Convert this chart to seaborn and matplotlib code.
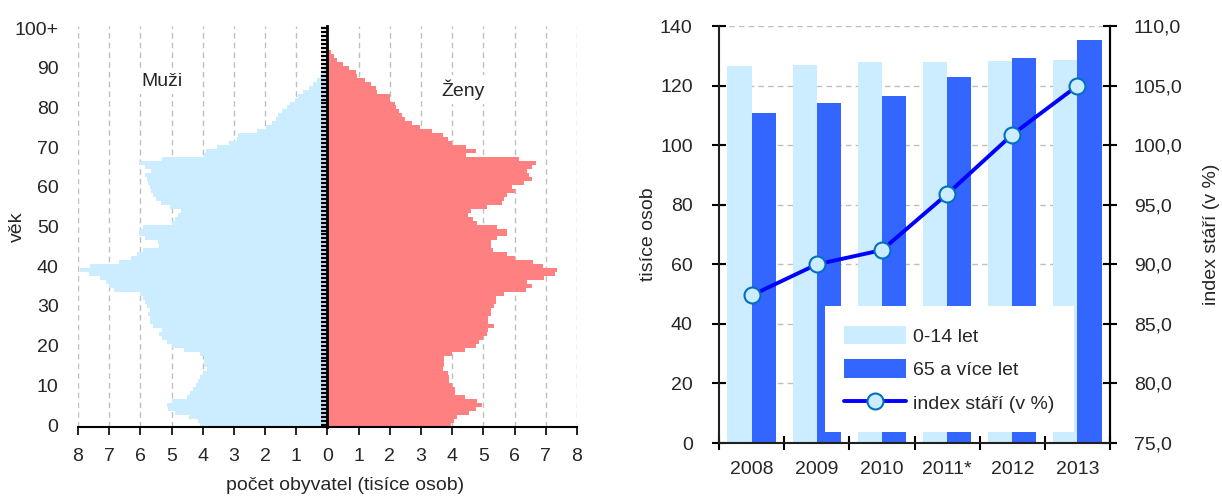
import numpy as np
import pandas as pd
import matplotlib
matplotlib.use("Agg")
import matplotlib.pyplot as plt
from matplotlib.patches import Patch
import seaborn as sns

# population pyramid (thousands), age 0 .. 100+
ages = np.arange(101)
men = [4.1, 4.15, 4.45, 4.9, 5.1, 5.15, 5.0, 4.5, 4.4, 4.3,
       4.2, 4.15, 4.1, 4.0, 3.85, 3.95, 3.95, 3.95, 4.1, 4.6,
       5.0, 5.15, 5.3, 5.4, 5.3, 5.6, 5.7, 5.7, 5.75, 5.7,
       5.8, 5.85, 5.9, 6.0, 6.85, 7.0, 7.1, 7.3, 7.65, 7.95,
       7.6, 6.7, 6.3, 6.1, 5.9, 5.4, 5.45, 5.85, 6.05, 6.05,
       5.9, 5.0, 4.9, 4.8, 4.7, 5.05, 5.35, 5.5, 5.6, 5.65,
       5.7, 5.75, 5.8, 5.85, 5.65, 5.85, 6.05, 5.3, 3.95, 3.9,
       3.55, 3.17, 2.9, 2.88, 2.27, 1.98, 1.77, 1.65, 1.6, 1.45,
       1.29, 1.2, 1.05, 0.95, 0.78, 0.6, 0.45, 0.35, 0.25, 0.15,
       0.1, 0.07, 0.05, 0.04, 0.03, 0.02, 0.01, 0.01, 0.01, 0.01,
       0.01]
women = [3.95, 4.05, 4.15, 4.55, 4.75, 4.95, 4.8, 4.4, 4.1, 4.1,
         4.0, 3.9, 3.9, 3.85, 3.7, 3.75, 3.75, 3.75, 4.0, 4.4,
         4.75, 4.85, 5.0, 5.1, 5.15, 5.35, 5.15, 5.15, 5.25, 5.25,
         5.35, 5.4, 5.4, 5.65, 6.35, 6.55, 6.4, 6.95, 7.3, 7.35,
         6.9, 6.6, 6.0, 5.75, 5.3, 5.25, 5.25, 5.45, 5.75, 5.75,
         5.45, 4.8, 4.65, 4.5, 4.6, 5.1, 5.6, 5.65, 5.75, 6.0,
         5.9, 6.3, 6.55, 6.45, 6.4, 6.55, 6.7, 6.15, 4.45, 4.75,
         4.45, 4.0, 3.85, 3.7, 3.35, 2.95, 2.7, 2.5, 2.4, 2.3,
         2.2, 2.15, 2.0, 2.0, 1.6, 1.55, 1.4, 1.2, 0.95, 0.9,
         0.7, 0.5, 0.32, 0.2, 0.1, 0.06, 0.04, 0.03, 0.02, 0.01,
         0.02]
age_ticks = list(range(0, 101, 10))
age_labels = [str(a) for a in age_ticks[:-1]] + ["100+"]

# age structure 2008-2013
years = ["2008", "2009", "2010", "2011*", "2012", "2013"]
kids = [126.7, 126.8, 127.9, 128.0, 128.2, 128.8]
seniors = [110.7, 114.1, 116.6, 122.8, 129.4, 135.3]
aging_index = [87.4, 90.0, 91.2, 95.9, 100.9, 105.0]

light = "#CCECFF"
pink = "#FF8080"
dark = "#3366FF"
grid_kw = dict(color="#BFBFBF", linestyle=(0, (4, 3)), linewidth=1)
fs = 14

sns.set_theme(style="white")
plt.rcParams["font.family"] = ["Liberation Sans", "DejaVu Sans"]
plt.rcParams["font.size"] = fs

fig = plt.figure(figsize=(12.22, 4.98), dpi=100)

# ---- left: pyramid
ax1 = fig.add_axes([0.0638, 0.1426, 0.4084, 0.805])
pyr = pd.DataFrame({"age": ages, "men": -np.array(men), "women": women})
sns.barplot(data=pyr, x="men", y="age", orient="y", native_scale=True, width=1,
            color=light, saturation=1, errorbar=None, linewidth=0, ax=ax1)
sns.barplot(data=pyr, x="women", y="age", orient="y", native_scale=True, width=1,
            color=pink, saturation=1, errorbar=None, linewidth=0, ax=ax1)
ax1.set_xlim(-8, 8)
ax1.set_ylim(-0.5, 100.5)
ax1.set_xticks(range(-8, 9))
ax1.set_xticklabels([str(abs(v)) for v in range(-8, 9)])
ax1.set_yticks(age_ticks)
ax1.set_yticklabels(age_labels)
ax1.xaxis.grid(True, **grid_kw)
ax1.set_axisbelow(True)
for s in ["left", "top", "right"]:
    ax1.spines[s].set_visible(False)
ax1.spines["bottom"].set_color("black")
ax1.spines["bottom"].set_linewidth(1.5)
ax1.tick_params(axis="x", bottom=True, direction="out", length=6, width=1.2,
                color="black", labelsize=fs, pad=9)
ax1.tick_params(axis="y", left=True, length=0, labelsize=fs, pad=14)
ax1.set_xlabel("počet obyvatel (tisíce osob)", fontsize=fs)
ax1.xaxis.set_label_coords(0.535, -0.125)
ax1.set_ylabel("věk", fontsize=fs)
ax1.yaxis.set_label_coords(-0.104, 0.5)

center = ax1.secondary_yaxis(0.5)
center.set_zorder(5)
center.set_yticks(ages)
center.set_yticklabels([])
center.tick_params(axis="y", direction="in", length=4, width=1.6, color="black")
for s in center.spines.values():
    s.set_linewidth(2)
    s.set_color("black")

ax1.text(-5.3, 86.5, "Muži", ha="center", va="center", fontsize=fs,
         bbox=dict(facecolor="white", edgecolor="none", pad=3))
ax1.text(4.35, 84.5, "Ženy", ha="center", va="center", fontsize=fs,
         bbox=dict(facecolor="white", edgecolor="none", pad=3))

# ---- right: bars + aging index
ax = fig.add_axes([0.5884, 0.1104, 0.32, 0.837])
bars = pd.DataFrame({"year": years * 2,
                     "group": ["0-14 let"] * 6 + ["65 a více let"] * 6,
                     "value": kids + seniors})
sns.barplot(data=bars, x="year", y="value", hue="group",
            hue_order=["0-14 let", "65 a více let"], palette=[light, dark],
            width=0.74, gap=0, saturation=1, errorbar=None, linewidth=0,
            legend=False, ax=ax)
ax.set_ylim(0, 140)
ax.set_yticks(range(0, 141, 20))
ax.set_xlim(-0.5, 5.5)
ax.yaxis.grid(True, **grid_kw)
ax.set_axisbelow(True)
ax.spines["top"].set_visible(False)
for s in ["left", "bottom", "right"]:
    ax.spines[s].set_color("black")
    ax.spines[s].set_linewidth(1.5)
ax.set_xticks(np.arange(-0.5, 6, 1), minor=True)
ax.tick_params(axis="x", which="major", length=0, labelsize=fs, pad=13)
ax.tick_params(axis="x", which="minor", bottom=True, direction="inout",
               length=10, width=1.5, color="black")
ax.tick_params(axis="y", left=True, direction="inout", length=10, width=1.5,
               color="black", labelsize=fs, pad=14)
ax.set_xlabel("")
ax.set_ylabel("tisíce osob", fontsize=fs)
ax.yaxis.set_label_coords(-0.159, 0.5)

ax2 = ax.twinx()
sns.pointplot(x=years, y=aging_index, ax=ax2, color="#0000FF", markers="o",
              linestyles="-", errorbar=None, markersize=11.5, linewidth=2.8)
line = ax2.lines[0]
line.set_markerfacecolor(light)
line.set_markeredgecolor("#0070C0")
line.set_markeredgewidth(1.5)
ax2.set_ylim(75, 110)
ax2.set_yticks(np.arange(75, 111, 5))
ax2.set_yticklabels([f"{v:.1f}".replace(".", ",") for v in np.arange(75, 111, 5)])
ax2.set_xlim(-0.5, 5.5)
ax2.spines["top"].set_visible(False)
ax2.spines["right"].set_color("black")
ax2.spines["right"].set_linewidth(1.5)
ax2.tick_params(axis="y", right=True, direction="inout", length=10, width=1.5,
                color="black", labelsize=fs, pad=12)
ax2.set_ylabel("index stáří (v %)", fontsize=fs)
ax2.yaxis.set_label_coords(1.238, 0.5)
ax2.set_xlabel("")

handles = [Patch(facecolor=light, edgecolor="none"),
           Patch(facecolor=dark, edgecolor="none"), line]
leg = ax2.legend(handles, ["0-14 let", "65 a více let", "index stáří (v %)"],
                 loc="lower left", bbox_to_anchor=(0.27, 0.026), frameon=True,
                 fancybox=False, framealpha=1, facecolor="white",
                 edgecolor="none", fontsize=fs, handlelength=3.2,
                 handleheight=1.1, labelspacing=0.7, borderpad=1.0,
                 handletextpad=0.35, borderaxespad=0)

fig.savefig("out.png", dpi=100)
